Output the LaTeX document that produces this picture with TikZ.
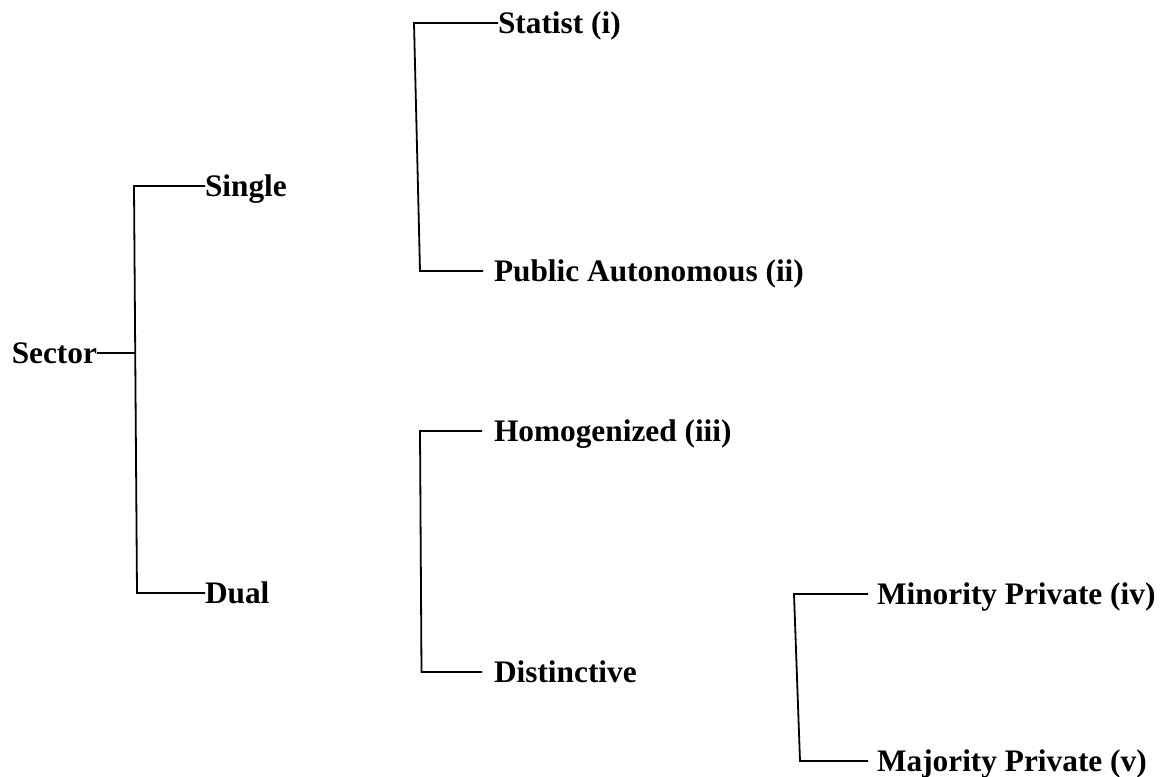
\documentclass[tikz,border=0pt]{standalone}
\usepackage{fontspec}
\setmainfont{Liberation Serif}
\begin{document}
\begin{tikzpicture}[x=0.75pt,y=-0.75pt,
  lbl/.style={inner sep=0pt,outer sep=0pt,anchor=base west,font=\fontsize{23.5pt}{28pt}\selectfont\bfseries},
  conn/.style={line width=1.35pt,line join=miter}]
\useasboundingbox (0,0) rectangle (1165,776);
% level 0
\coordinate (sec-out) at (97,353);
\node[lbl,anchor=base east] (sector) at (97,363.5) {Sector};
\coordinate (b1) at (135.5,353);
\coordinate (b1top) at (134,186);
\coordinate (b1bot) at (137,593);
% level 1
\coordinate (single-in) at (205,186);
\node[lbl] (single) at (205,196.5) {Single};
\coordinate (dual-in) at (205,593);
\node[lbl] (dual) at (205,603.5) {Dual};
% level 2 (single)
\coordinate (b2top) at (414,23);
\coordinate (b2bot) at (420,271);
\coordinate (statist-in) at (498,23);
\node[lbl] (statist) at (498,33.5) {Statist (i)};
\coordinate (public-in) at (483,271);
\node[lbl] (public) at (494,281.5) {Public Autonomous (ii)};
% level 2 (dual)
\coordinate (b3top) at (420,431);
\coordinate (b3bot) at (421.5,672);
\coordinate (homog-in) at (482,431);
\node[lbl] (homog) at (494,441.5) {Homogenized (iii)};
\coordinate (dist-in) at (482,672);
\node[lbl] (dist) at (494,682.5) {Distinctive};
% level 3
\coordinate (b4top) at (794,594);
\coordinate (b4bot) at (800,761);
\coordinate (minor-in) at (868,594);
\node[lbl] (minor) at (877,604.5) {Minority Private (iv)};
\coordinate (major-in) at (868,761);
\node[lbl] (major) at (877,771.5) {Majority Private (v)};
% connectors
\draw[conn] (sec-out) -- (b1);
\draw[conn] (single-in) -- (b1top) -- (b1bot) -- (dual-in);
\draw[conn] (statist-in) -- (b2top) -- (b2bot) -- (public-in);
\draw[conn] (homog-in) -- (b3top) -- (b3bot) -- (dist-in);
\draw[conn] (minor-in) -- (b4top) -- (b4bot) -- (major-in);
\end{tikzpicture}
\end{document}
